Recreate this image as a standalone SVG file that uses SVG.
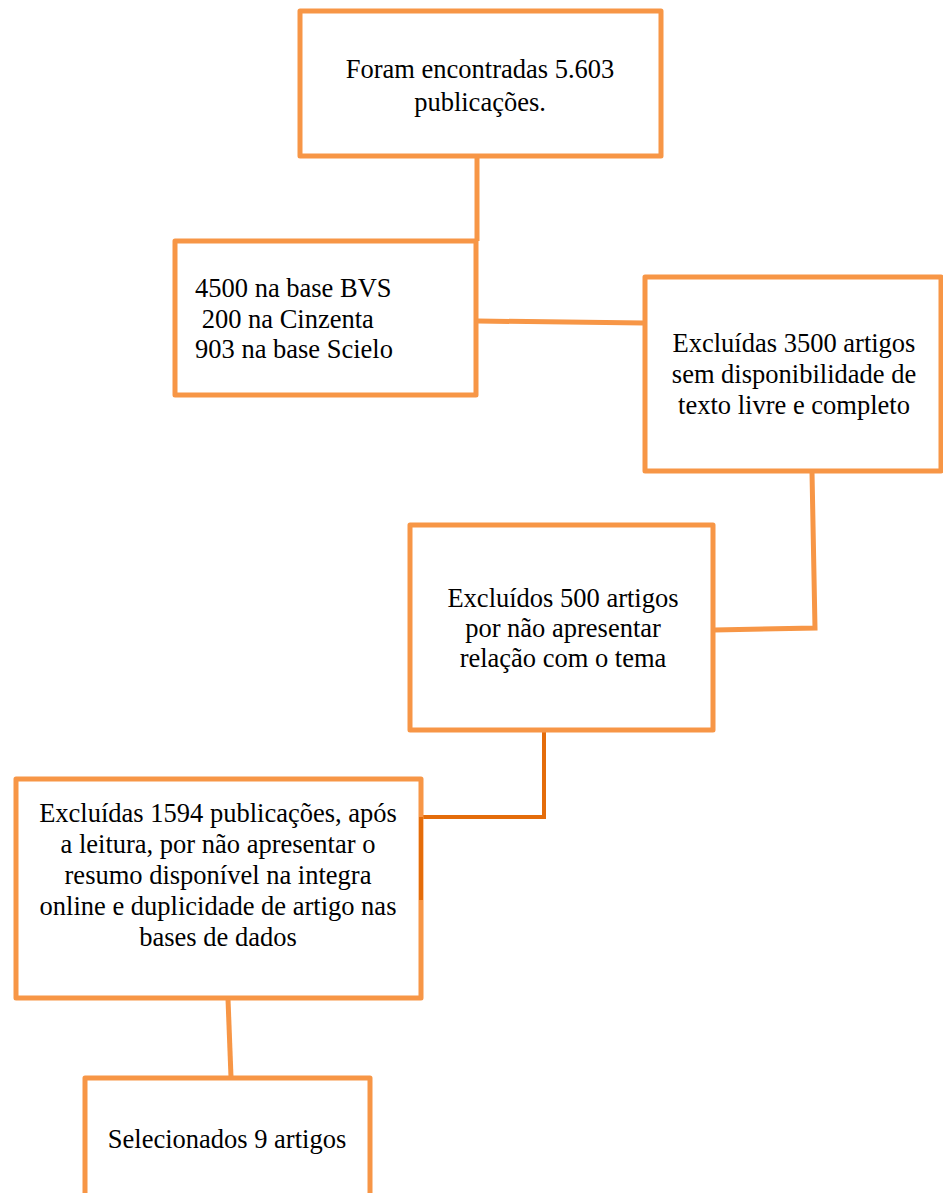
<svg xmlns="http://www.w3.org/2000/svg" width="943" height="1193" viewBox="0 0 943 1193">
<style>
.box{fill:#fff;stroke:#F79646;stroke-width:5;stroke-linejoin:round}
.ln{fill:none;stroke:#F79646;stroke-width:5}
.dk{fill:none;stroke:#E46C0A;stroke-width:4}
.t{font-family:'Liberation Serif','Times New Roman',serif;font-size:26.5px;fill:#000}
.c{text-anchor:middle}
</style>
<rect width="943" height="1193" fill="#fff"/>
<g id="connectors">
<path class="ln" d="M477 157 L477 241"/>
<path class="ln" d="M478 321 L644 323"/>
<path class="ln" d="M812 472 L815 628 L714 630"/>
<path class="dk" d="M544 732 L544 817 L422 817"/>
<path class="ln" d="M228 999 L231 1077"/>
</g>
<g id="n1" class="t">
<rect class="box" x="300" y="11" width="361" height="145"/>
<text class="c" x="480" y="78">Foram encontradas 5.603</text>
<text class="c" x="480" y="111">publicações.</text>
</g>
<g id="n2" class="t">
<rect class="box" x="175" y="241" width="301" height="154"/>
<text x="195" y="297" xml:space="preserve">4500 na base BVS</text>
<text x="195" y="328" xml:space="preserve"> 200 na Cinzenta</text>
<text x="195" y="358" xml:space="preserve">903 na base Scielo</text>
</g>
<g id="n3" class="t">
<rect class="box" x="645" y="277" width="296" height="194"/>
<text class="c" x="794" y="352">Excluídas 3500 artigos</text>
<text class="c" x="794" y="383">sem disponibilidade de</text>
<text class="c" x="794" y="414">texto livre e completo</text>
</g>
<g id="n4" class="t">
<rect class="box" x="410" y="525" width="303" height="205"/>
<text class="c" x="563" y="607">Excluídos 500 artigos</text>
<text class="c" x="563" y="637">por não apresentar</text>
<text class="c" x="563" y="667">relação com o tema</text>
</g>
<g id="n5" class="t">
<rect class="box" x="16" y="779" width="405" height="219"/>
<path class="dk" d="M421 817 L421 900"/>
<text class="c" x="218" y="822">Excluídas 1594 publicações, após</text>
<text class="c" x="218" y="853">a leitura, por não apresentar o</text>
<text class="c" x="218" y="884">resumo disponível na integra</text>
<text class="c" x="218" y="915">online e duplicidade de artigo nas</text>
<text class="c" x="218" y="946">bases de dados</text>
</g>
<g id="n6" class="t">
<rect class="box" x="85" y="1078" width="285" height="150"/>
<text class="c" x="227" y="1148">Selecionados 9 artigos</text>
</g>
</svg>
